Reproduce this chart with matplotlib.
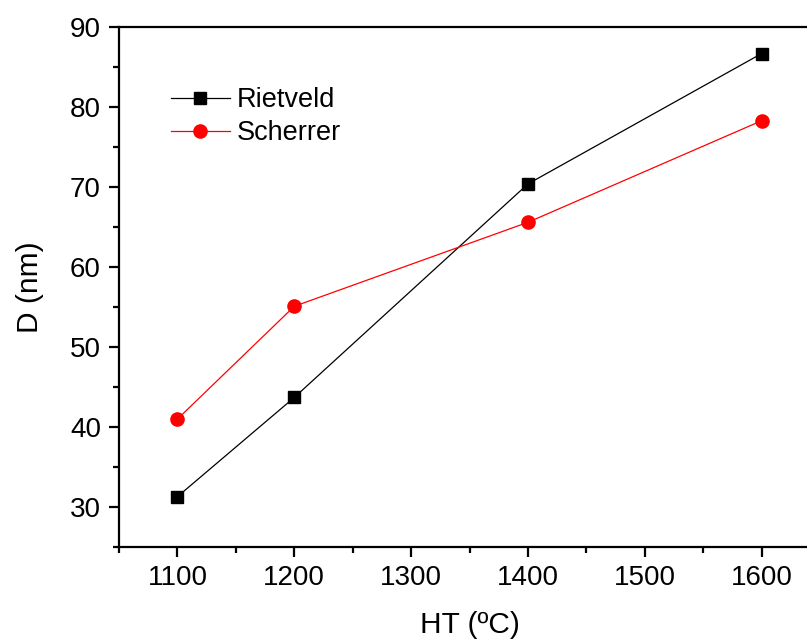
import matplotlib.pyplot as plt
from matplotlib.ticker import MultipleLocator

plt.rcParams['font.family'] = ['Liberation Sans', 'DejaVu Sans']

ht = [1100, 1200, 1400, 1600]
rietveld = [31.3, 43.7, 70.4, 86.7]
scherrer = [41.0, 55.1, 65.6, 78.3]

fig = plt.figure(figsize=(8.07, 6.41), dpi=100)
ax = fig.add_axes([0.1475, 0.1466, 0.8686, 0.811])

ax.plot(ht, rietveld, color='black', lw=0.9, marker='s', ms=8.5, label='Rietveld')
ax.plot(ht, scherrer, color='red', lw=0.9, marker='o', ms=9.5, label='Scherrer')

ax.set_xlim(1050, 1650)
ax.set_ylim(25, 90)
ax.xaxis.set_major_locator(MultipleLocator(100))
ax.xaxis.set_minor_locator(MultipleLocator(50))
ax.yaxis.set_major_locator(MultipleLocator(10))
ax.yaxis.set_minor_locator(MultipleLocator(5))

for s in ax.spines.values():
    s.set_linewidth(1.6)
ax.tick_params(which='major', direction='out', length=7, width=1.6, labelsize=20, pad=6)
ax.tick_params(which='minor', direction='out', length=4, width=1.6)
ax.tick_params(top=False, right=False)

ax.set_xlabel('HT (ºC)', fontsize=21.5, labelpad=14)
ax.set_ylabel('D (nm)', fontsize=21.5, labelpad=19)

ax.legend(loc='upper left', bbox_to_anchor=(0.058, 0.905), frameon=False, fontsize=19.5,
          handlelength=2.2, handletextpad=0.25, labelspacing=0.25, borderaxespad=0)

fig.savefig('out.png', dpi=100)
